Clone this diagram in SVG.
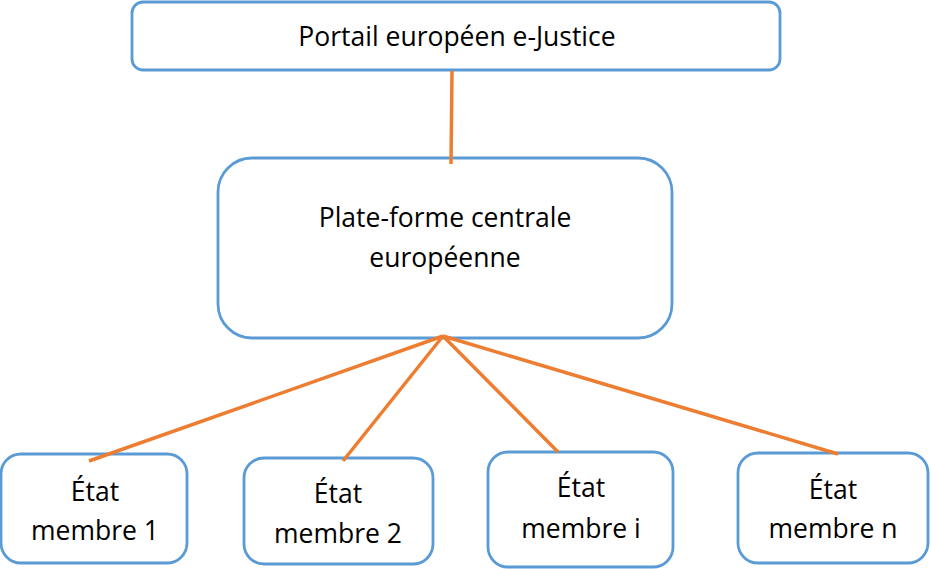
<svg xmlns="http://www.w3.org/2000/svg" width="931" height="569" viewBox="0 0 931 569">
<style>
.box{fill:#fff;stroke:#5B9BD5;stroke-width:2.8}
.lbl{font-family:"Open Sans","Noto Sans",sans-serif;font-size:26.5px;fill:#000;text-anchor:middle}
.con{stroke:#ED7D31;stroke-width:3.5;fill:none;stroke-linecap:butt}
</style>
<rect width="931" height="569" fill="#fff"/>
<g id="portail">
<rect class="box" x="132" y="2" width="648" height="68" rx="11"/>
<text class="lbl" x="457" y="46">Portail européen e-Justice</text>
</g>
<g id="plateforme">
<rect class="box" x="218" y="158" width="454" height="180" rx="34"/>
<text class="lbl" x="445" y="227">Plate-forme centrale</text>
<text class="lbl" x="445" y="267">européenne</text>
</g>
<g id="etat1">
<rect class="box" x="1" y="454" width="186" height="109" rx="20"/>
<text class="lbl" x="95" y="501">État</text>
<text class="lbl" x="95" y="540">membre 1</text>
</g>
<g id="etat2">
<rect class="box" x="244" y="458" width="189" height="106" rx="20"/>
<text class="lbl" x="338" y="503">État</text>
<text class="lbl" x="338" y="543">membre 2</text>
</g>
<g id="etati">
<rect class="box" x="488" y="452" width="185" height="115" rx="20"/>
<text class="lbl" x="581" y="497">État</text>
<text class="lbl" x="581" y="538">membre i</text>
</g>
<g id="etatn">
<rect class="box" x="738" y="453" width="190" height="110" rx="20"/>
<text class="lbl" x="833" y="499">État</text>
<text class="lbl" x="833" y="538">membre n</text>
</g>
<g id="connectors">
<line class="con" x1="452" y1="71" x2="451" y2="164"/>
<line class="con" x1="443" y1="336" x2="89" y2="461"/>
<line class="con" x1="443" y1="336" x2="343" y2="461"/>
<line class="con" x1="443" y1="336" x2="558" y2="452"/>
<line class="con" x1="443" y1="336" x2="838" y2="454"/>
</g>
</svg>
